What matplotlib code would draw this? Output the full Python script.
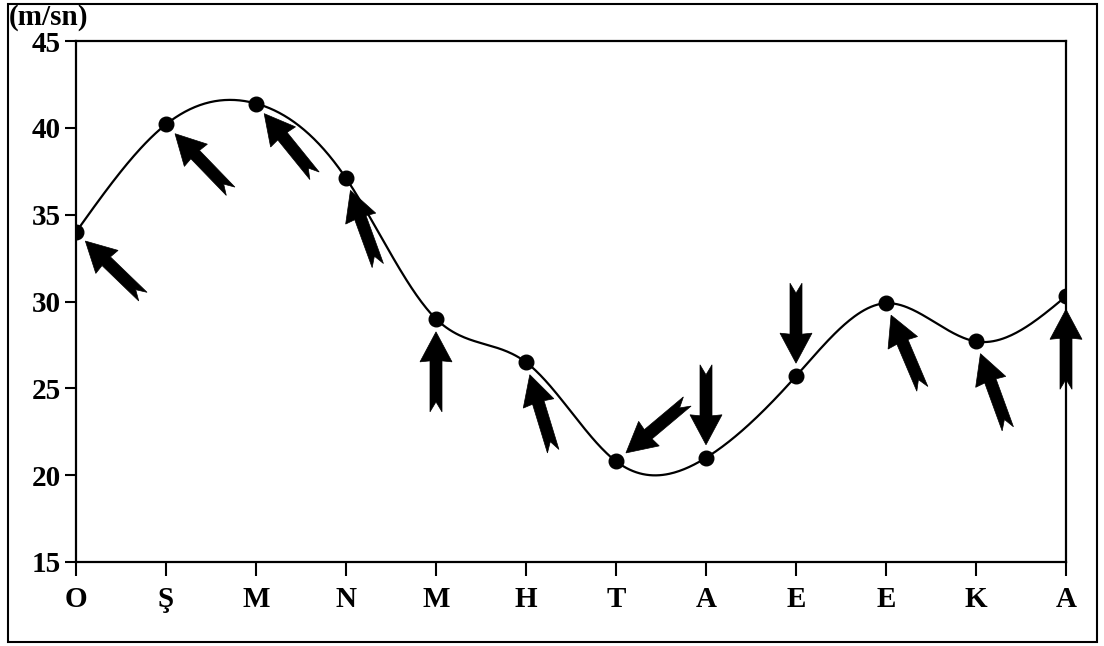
import numpy as np
import matplotlib
matplotlib.use("Agg")
import matplotlib.pyplot as plt
from matplotlib.patches import Polygon, Rectangle
from matplotlib.transforms import Affine2D, ScaledTranslation

# monthly wind speed (m/sn) and the direction each arrow points (deg, ccw from east)
months = ['O', 'Ş', 'M', 'N', 'M', 'H', 'T', 'A', 'E', 'E', 'K', 'A']
speed = [34.0, 40.2, 41.4, 37.1, 29.0, 26.5, 20.8, 21.0, 25.7, 29.9, 27.7, 30.3]
arrow_dir = [136, 134, 129, 110, 90, 107, 220, 270, 270, 113, 110, 90]
yticks = [15, 20, 25, 30, 35, 40, 45]


def smooth(x, y, n=600):
  # natural cubic spline, only used to draw the line between the points
  x = np.asarray(x, float)
  y = np.asarray(y, float)
  h = np.diff(x)
  k = len(x)
  A = np.zeros((k, k))
  r = np.zeros(k)
  A[0, 0] = A[-1, -1] = 1
  for i in range(1, k - 1):
    A[i, i - 1] = h[i - 1]
    A[i, i] = 2 * (h[i - 1] + h[i])
    A[i, i + 1] = h[i]
    r[i] = 3 * ((y[i + 1] - y[i]) / h[i] - (y[i] - y[i - 1]) / h[i - 1])
  c = np.linalg.solve(A, r)
  b = np.diff(y) / h - h * (2 * c[:-1] + c[1:]) / 3
  d = np.diff(c) / (3 * h)
  xs = np.linspace(x[0], x[-1], n)
  idx = np.clip(np.searchsorted(x, xs) - 1, 0, k - 2)
  t = xs - x[idx]
  ys = y[idx] + b[idx] * t + c[idx] * t ** 2 + d[idx] * t ** 3
  return xs, ys


fig = plt.figure(figsize=(11.04, 6.46), dpi=100)
ax = fig.add_axes([76 / 1104, 84 / 646, 990 / 1104, 521 / 646])

x = np.arange(len(months))
xs, ys = smooth(x, speed)
ax.plot(xs, ys, color='black', lw=1.6, zorder=2)
ax.plot(x, speed, 'o', color='black', ms=10.5, zorder=3)

# arrow shape in pixels, pointing +x, tip kept a small gap before the point
gap = 13
L = 80
shape = np.array([
  [0, 0], [-30, 16], [-29, 6], [-L, 6], [-L + 10, 0], [-L, -6], [-29, -6], [-30, -16]
], float)
shape[:, 0] -= gap

for xi, yi, a in zip(x, speed, arrow_dir):
  tr = Affine2D().scale(fig.dpi / 100).rotate_deg(a) + ScaledTranslation(xi, yi, ax.transData)
  ax.add_patch(Polygon(shape, closed=True, facecolor='black', edgecolor='black',
                       lw=0.5, transform=tr, clip_on=False, zorder=4))

ax.set_xlim(0, len(months) - 1)
ax.set_ylim(15, 45)
ax.set_xticks(x)
ax.set_xticklabels(months)
ax.set_yticks(yticks)

font = dict(family='Liberation Serif', weight='bold', size=21)
for lab in ax.get_xticklabels() + ax.get_yticklabels():
  lab.set_fontproperties(matplotlib.font_manager.FontProperties(**font))

ax.tick_params(axis='y', direction='out', length=8, width=1.5, pad=3)
ax.tick_params(axis='x', direction='out', length=10, width=1.5, pad=7)
for s in ax.spines.values():
  s.set_linewidth(1.6)

fig.text(9 / 1104, 1 - 4 / 646, '(m/sn)', ha='left', va='top', **font)

# frame round the whole picture
fig.add_artist(Rectangle((8 / 1104, 4 / 646), 1089 / 1104, 638 / 646, transform=fig.transFigure,
                         fill=False, edgecolor='black', lw=1.5))

plt.savefig('out.png', dpi=100)
plt.close()
